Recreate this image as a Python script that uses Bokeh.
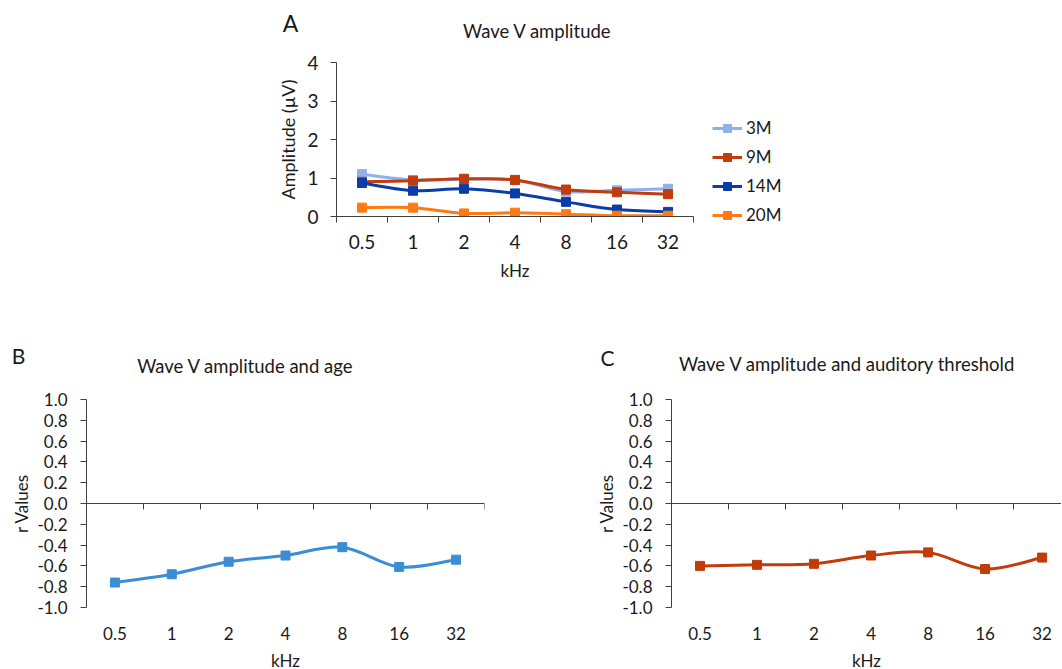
from bokeh.plotting import figure
from bokeh.models import (FixedTicker, LinearAxis, Label, Legend, LegendItem,
                          Range1d, NumeralTickFormatter, Spacer)
from bokeh.layouts import column, row
from bokeh.embed import file_html
from bokeh.resources import INLINE

# ---------------- data ----------------
freqs = ["0.5", "1", "2", "4", "8", "16", "32"]

amp_3m = [1.10, 0.95, 0.97, 0.95, 0.65, 0.68, 0.72]
amp_9m = [0.90, 0.93, 0.98, 0.95, 0.70, 0.63, 0.58]
amp_14m = [0.87, 0.67, 0.72, 0.60, 0.38, 0.18, 0.12]
amp_20m = [0.23, 0.23, 0.08, 0.10, 0.06, 0.02, 0.02]

r_age = [-0.76, -0.68, -0.56, -0.50, -0.42, -0.61, -0.54]
r_threshold = [-0.60, -0.59, -0.58, -0.50, -0.47, -0.63, -0.52]

amp_ticks = [0, 1, 2, 3, 4]
r_ticks = [-1.0, -0.8, -0.6, -0.4, -0.2, 0.0, 0.2, 0.4, 0.6, 0.8, 1.0]

series_a = [("3M", amp_3m, "#8FB0EA"), ("9M", amp_9m, "#C23B0B"),
            ("14M", amp_14m, "#0A3DA8"), ("20M", amp_20m, "#FF7A12")]

title_a = "Wave V amplitude"
title_b = "Wave V amplitude and age"
title_c = "Wave V amplitude and auditory threshold"

FONT = "Lato"
TXT = "#1a1a1a"
W = 1061
idx = list(range(len(freqs)))
overrides = {i: f for i, f in enumerate(freqs)}
minor = [i - 0.5 for i in range(len(freqs) + 1)]


def smooth_segments(ys):
    """Bezier control points (Catmull-Rom style) through the data points."""
    n = len(ys)
    x0, y0, x1, y1, cx0, cy0, cx1, cy1 = [], [], [], [], [], [], [], []
    for i in range(n - 1):
        xp, yp = (i - 1, ys[i - 1]) if i > 0 else (i, ys[i])
        xn, yn = (i + 2, ys[i + 2]) if i + 2 < n else (i + 1, ys[i + 1])
        x0.append(i); y0.append(ys[i]); x1.append(i + 1); y1.append(ys[i + 1])
        cx0.append(i + (i + 1 - xp) / 6.0); cy0.append(ys[i] + (ys[i + 1] - yp) / 6.0)
        cx1.append(i + 1 - (xn - i) / 6.0); cy1.append(ys[i + 1] - (yn - ys[i]) / 6.0)
    return dict(x0=x0, y0=y0, x1=x1, y1=y1, cx0=cx0, cy0=cy0, cx1=cx1, cy1=cy1)


def style_fig(p):
    p.outline_line_color = None
    p.grid.visible = False
    p.background_fill_color = "white"
    p.border_fill_color = "white"


def style_axis(ax, label_size):
    ax.axis_line_color = "#404040"
    ax.major_tick_line_color = "#404040"
    ax.minor_tick_line_color = "#404040"
    ax.major_label_text_font = FONT
    ax.major_label_text_font_size = label_size
    ax.major_label_text_color = TXT
    ax.axis_label_text_font = FONT
    ax.axis_label_text_font_style = "normal"
    ax.axis_label_text_color = TXT


def header(height, texts):
    """A text-only strip; y runs downward in pixels from its top."""
    h = figure(width=W, height=height, output_backend="svg", toolbar_location=None,
               x_range=Range1d(0, W), y_range=Range1d(height, 0),
               min_border_left=0, min_border_right=0, min_border_top=0,
               min_border_bottom=0, x_axis_type=None, y_axis_type=None)
    style_fig(h)
    for (tx, ty, txt, size) in texts:
        h.add_layout(Label(x=tx, y=ty, text=txt, text_font=FONT, text_font_size=size,
                           text_color=TXT, text_align="center", text_baseline="middle"))
    return h


# ---------------- header strips ----------------
head1 = header(50, [(290, 22, "A", "23px"), (537, 30, title_a, "18.5px")])
head2 = header(55, [(18, 25, "B", "21px"), (245, 35, title_b, "18.5px"),
                    (607, 27, "C", "21px"), (847, 33, title_c, "18.5px")])

# ---------------- panel A ----------------
pa = figure(frame_width=357, frame_height=154, output_backend="svg",
            toolbar_location=None, x_range=Range1d(-0.5, 6.5), y_range=Range1d(0, 4),
            min_border_left=90, min_border_top=12, min_border_bottom=114,
            min_border_right=110, x_axis_type=None, y_axis_type=None)
style_fig(pa)

xa = LinearAxis(ticker=FixedTicker(ticks=idx, minor_ticks=minor),
                major_label_overrides=overrides, axis_label="kHz")
style_axis(xa, "19px")
xa.major_tick_out = 0
xa.major_tick_in = 0
xa.minor_tick_out = 6
xa.minor_tick_in = 0
xa.major_label_standoff = 12
xa.axis_label_text_font_size = "17px"
xa.axis_label_standoff = 8
pa.add_layout(xa, "below")

ya = LinearAxis(ticker=FixedTicker(ticks=amp_ticks), axis_label="Amplitude (µV)")
style_axis(ya, "19px")
ya.major_tick_out = 6
ya.major_tick_in = 0
ya.minor_tick_out = 0
ya.major_label_standoff = 12
ya.axis_label_text_font_size = "18px"
ya.axis_label_standoff = 5
pa.add_layout(ya, "left")

items = []
for name, ys, col in series_a:
    b = pa.bezier(line_color=col, line_width=3, **smooth_segments(ys))
    s = pa.scatter(idx, ys, marker="square", size=9, fill_color=col, line_color=col)
    items.append(LegendItem(label=name, renderers=[b, s]))

leg = Legend(items=items, location=(19, -9), orientation="vertical",
             label_text_font=FONT, label_text_font_size="17px", label_text_color=TXT,
             glyph_width=30, glyph_height=20, label_height=20, label_standoff=4,
             spacing=8, padding=0, margin=0, border_line_color=None,
             background_fill_alpha=0)
pa.add_layout(leg, "right")


# ---------------- panels B and C ----------------
def r_panel(values, color, left_border, right_border, frame_w, x_end):
    p = figure(frame_width=frame_w, frame_height=208,
               output_backend="svg", toolbar_location=None,
               x_range=Range1d(-0.5, x_end), y_range=Range1d(-1.0, 1.0),
               min_border_left=left_border, min_border_right=right_border,
               min_border_top=14, min_border_bottom=61,
               x_axis_type=None, y_axis_type=None)
    style_fig(p)

    xb = LinearAxis(ticker=FixedTicker(ticks=idx), major_label_overrides=overrides,
                    axis_label="kHz")
    style_axis(xb, "17px")
    xb.axis_line_color = None
    xb.major_tick_line_color = None
    xb.minor_tick_line_color = None
    xb.major_label_standoff = 13
    xb.axis_label_text_font_size = "17px"
    xb.axis_label_standoff = 7
    p.add_layout(xb, "below")

    x0 = LinearAxis(ticker=FixedTicker(ticks=idx, minor_ticks=minor), fixed_location=0)
    style_axis(x0, "1px")
    x0.major_label_text_alpha = 0
    x0.major_tick_out = 0
    x0.major_tick_in = 0
    x0.minor_tick_out = 6
    x0.minor_tick_in = 0
    x0.major_label_standoff = 0
    p.add_layout(x0, "below")

    yb = LinearAxis(ticker=FixedTicker(ticks=r_ticks), axis_label="r Values",
                    formatter=NumeralTickFormatter(format="0.0"))
    style_axis(yb, "17px")
    yb.major_tick_out = 6
    yb.major_tick_in = 0
    yb.minor_tick_out = 0
    yb.major_label_standoff = 13
    yb.axis_label_text_font_size = "17px"
    yb.axis_label_standoff = 2
    p.add_layout(yb, "left")

    p.bezier(line_color=color, line_width=3, **smooth_segments(values))
    p.scatter(idx, values, marker="square", size=9, fill_color=color, line_color=color)
    return p


pb = r_panel(r_age, "#3B8DD6", 86, 70, 398, 6.5)
pc = r_panel(r_threshold, "#C23B0B", 117, 0, 390, 6.34)

layout = column(head1, row(Spacer(width=246, height=10), pa), head2, row(pb, pc))

open("out.html", "w").write(file_html(layout, INLINE))
